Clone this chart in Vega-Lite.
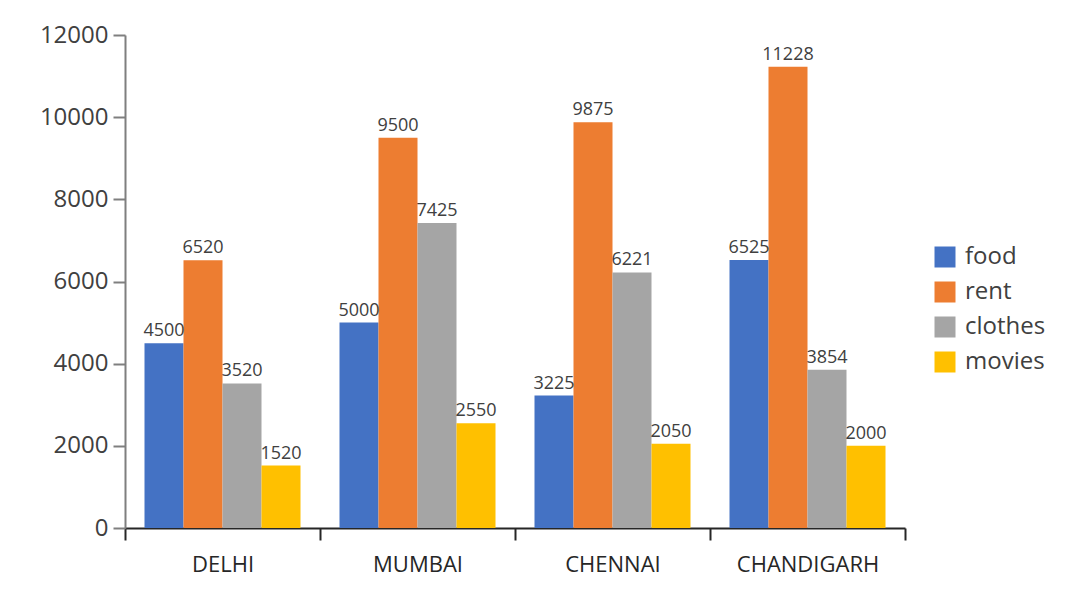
{
  "$schema": "https://vega.github.io/schema/vega-lite/v6.json",
  "width": 780,
  "height": 493,
  "autosize": {"type": "none"},
  "padding": {"left": 125, "top": 35, "right": 162, "bottom": 84},
  "background": "white",
  "config": {
    "font": "Open Sans",
    "view": {"stroke": null}
  },
  "data": {
    "values": [
      {"city": "DELHI", "cat": "food", "value": 4500},
      {"city": "DELHI", "cat": "rent", "value": 6520},
      {"city": "DELHI", "cat": "clothes", "value": 3520},
      {"city": "DELHI", "cat": "movies", "value": 1520},
      {"city": "MUMBAI", "cat": "food", "value": 5000},
      {"city": "MUMBAI", "cat": "rent", "value": 9500},
      {"city": "MUMBAI", "cat": "clothes", "value": 7425},
      {"city": "MUMBAI", "cat": "movies", "value": 2550},
      {"city": "CHENNAI", "cat": "food", "value": 3225},
      {"city": "CHENNAI", "cat": "rent", "value": 9875},
      {"city": "CHENNAI", "cat": "clothes", "value": 6221},
      {"city": "CHENNAI", "cat": "movies", "value": 2050},
      {"city": "CHANDIGARH", "cat": "food", "value": 6525},
      {"city": "CHANDIGARH", "cat": "rent", "value": 11228},
      {"city": "CHANDIGARH", "cat": "clothes", "value": 3854},
      {"city": "CHANDIGARH", "cat": "movies", "value": 2000}
    ]
  },
  "encoding": {
    "x": {
      "field": "city",
      "type": "nominal",
      "sort": ["DELHI", "MUMBAI", "CHENNAI", "CHANDIGARH"],
      "scale": {"paddingInner": 0, "paddingOuter": 0},
      "axis": {
        "title": null,
        "labelAngle": 0,
        "tickBand": "extent",
        "tickSize": 12,
        "tickWidth": 2,
        "tickColor": "#262626",
        "domainColor": "#262626",
        "domainWidth": 2,
        "labelPadding": 14,
        "labelFontSize": 22,
        "labelColor": "#262626"
      }
    },
    "xOffset": {
      "field": "cat",
      "sort": ["food", "rent", "clothes", "movies"],
      "scale": {"paddingInner": 0, "paddingOuter": 0.5}
    },
    "y": {
      "field": "value",
      "type": "quantitative",
      "scale": {"domain": [0, 12000], "nice": false},
      "axis": {
        "title": null,
        "grid": false,
        "format": "d",
        "values": [0, 2000, 4000, 6000, 8000, 10000, 12000],
        "tickSize": 12,
        "tickWidth": 2,
        "tickColor": "#7f7f7f",
        "domainColor": "#7f7f7f",
        "domainWidth": 2,
        "labelPadding": 5,
        "labelFontSize": 24,
        "labelColor": "#404040"
      }
    }
  },
  "layer": [
    {
      "mark": {"type": "bar"},
      "encoding": {
        "color": {
          "field": "cat",
          "type": "nominal",
          "sort": ["food", "rent", "clothes", "movies"],
          "scale": {
            "domain": ["food", "rent", "clothes", "movies"],
            "range": ["#4472C4", "#ED7D31", "#A5A5A5", "#FFC000"]
          },
          "legend": {
            "title": null,
            "orient": "none",
            "legendX": 808,
            "legendY": 210,
            "padding": 0,
            "symbolType": "square",
            "symbolSize": 441,
            "symbolStrokeWidth": 0,
            "labelFontSize": 24,
            "labelColor": "#404040",
            "labelOffset": 8,
            "rowPadding": 11
          }
        }
      }
    },
    {
      "mark": {"type": "text", "baseline": "bottom", "dy": -3, "fontSize": 18, "color": "#404040"},
      "encoding": {
        "text": {"field": "value", "type": "quantitative", "format": "d"}
      }
    }
  ]
}
